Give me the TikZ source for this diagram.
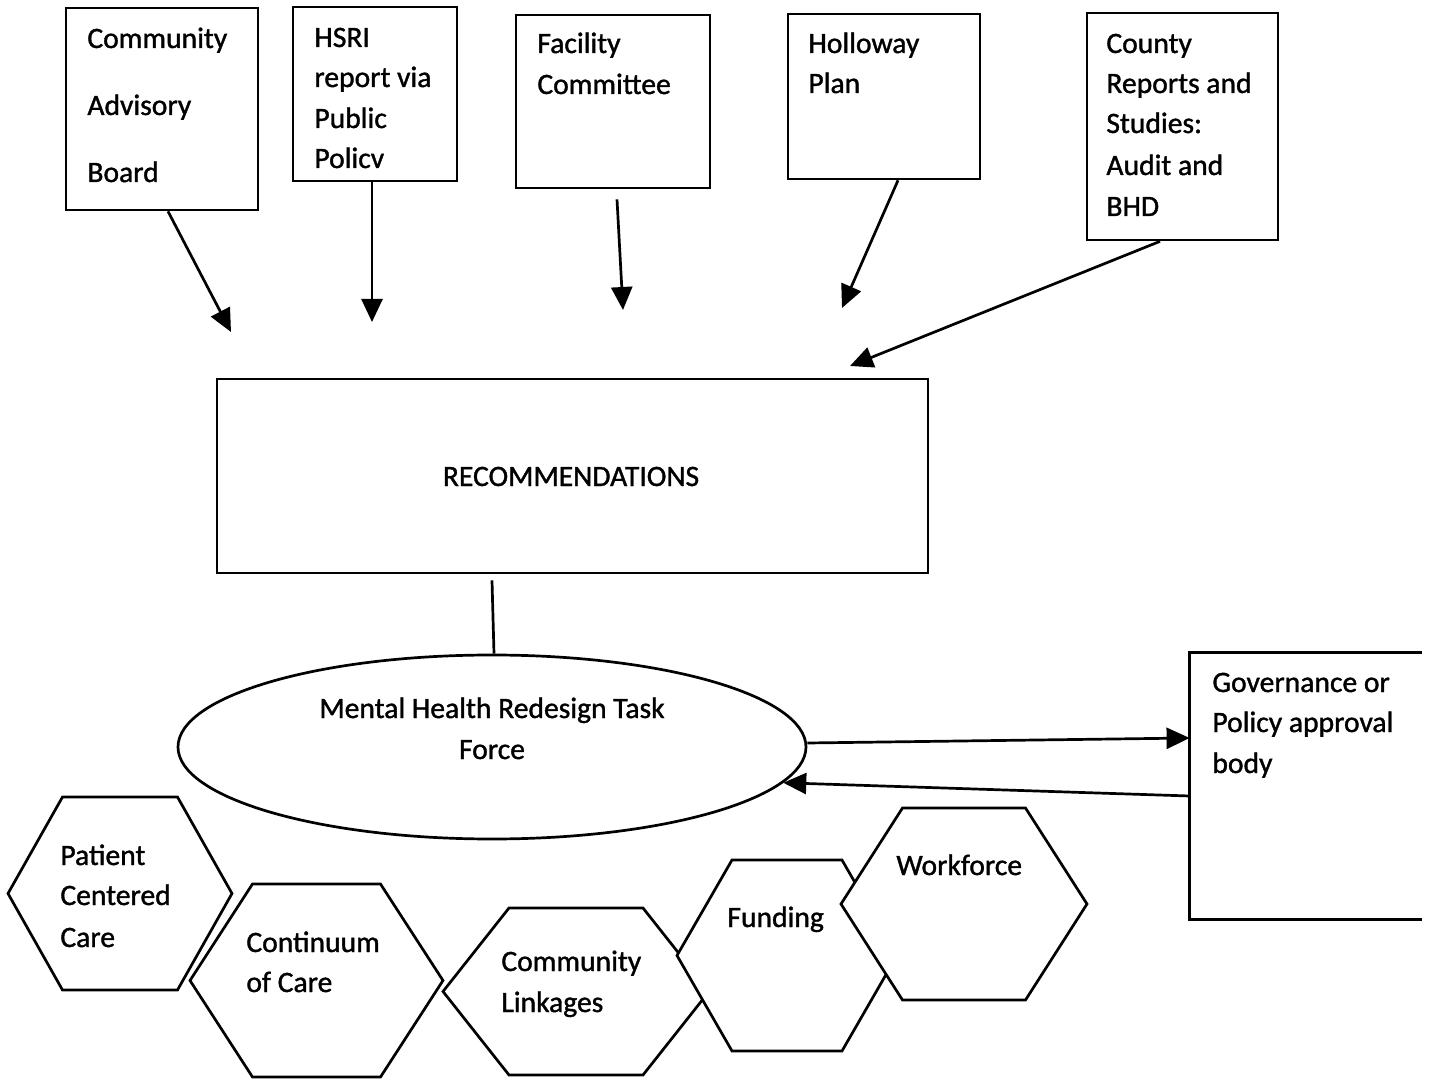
\documentclass[tikz,border=0pt]{standalone}
\usepackage{fontspec}
\setmainfont{Carlito}
\newfontfamily\diagfont{Carlito}[FakeBold=1.2]
\usetikzlibrary{arrows.meta,shapes.geometric}
\newcommand\drawhexa[5]{\path[hexa] (#1-#3,#2) -- (#1-#4,#2-#5) -- (#1+#4,#2-#5) -- (#1+#3,#2) -- (#1+#4,#2+#5) -- (#1-#4,#2+#5) -- cycle;}
\begin{document}
\begin{tikzpicture}[x=0.5pt,y=-0.5pt,
  bx/.style={draw,line width=1.35pt,rectangle,inner sep=0pt},
  txt/.style={inner sep=0pt,anchor=base west,font=\diagfont\fontsize{14.8}{17}\selectfont},
  ctxt/.style={inner sep=0pt,anchor=base,font=\diagfont\fontsize{14.8}{17}\selectfont},
  ln/.style={line width=1.35pt},
  arr/.style={line width=1.35pt,-{Triangle[length=11.5pt,width=10.5pt]}},
  hexa/.style={draw,fill=white,line width=1.35pt,line join=miter}]
\useasboundingbox[fill=white] (0,0) rectangle (1432,1081);

% top source boxes
\node[bx,minimum width=96pt,minimum height=101pt] (cab) at (162,109) {};
\node[bx,minimum width=82pt,minimum height=87pt] (hsri) at (375,94) {};
\node[bx,minimum width=97pt,minimum height=86.5pt] (fac) at (613,101.5) {};
\node[bx,minimum width=96pt,minimum height=82.5pt] (hol) at (884,96.5) {};
\node[bx,minimum width=95.5pt,minimum height=113.5pt] (cty) at (1182.5,126.5) {};

\node[txt] (cab1) at (87,48) {Community};
\node[txt] (cab2) at (87,115) {Advisory};
\node[txt] (cab3) at (87,182) {Board};

\node[txt] (hs1) at (314,47) {HSRI};
\node[txt] (hs2) at (314,87) {report via};
\node[txt] (hs3) at (314,128) {Public};
\node[txt] (hs4) at (314,168) {Policv};

\node[txt] (fa1) at (537,53) {Facility};
\node[txt] (fa2) at (537,94) {Committee};

\node[txt] (ho1) at (808,53) {Holloway};
\node[txt] (ho2) at (808,93) {Plan};

\node[txt] (ct1) at (1106,53) {County};
\node[txt] (ct2) at (1106,93) {Reports and};
\node[txt] (ct3) at (1106,133) {Studies:};
\node[txt] (ct4) at (1106,175) {Audit and};
\node[txt] (ct5) at (1106,216) {BHD};

% free arrow ends
\coordinate (e1) at (231,332);
\coordinate (e2) at (372,322);
\coordinate (e3) at (623,310);
\coordinate (e4) at (842,308);
\coordinate (e5) at (850,366);

\draw[arr] ([xshift=3pt]cab.south) -- (e1);
\draw[arr] ([xshift=-1.5pt]hsri.south) -- (e2);
\draw[arr] ([xshift=2pt,yshift=-5pt]fac.south) -- (e3);
\draw[arr] ([xshift=7pt]hol.south) -- (e4);
\draw[arr] ([xshift=-11.25pt]cty.south) -- (e5);

% recommendations
\node[bx,minimum width=355.5pt,minimum height=97pt] (rec) at (572.5,476) {};
\node[ctxt] (rect) at (571,486) {RECOMMENDATIONS};

% task force ellipse
\node[ellipse,draw,line width=1.35pt,minimum width=314pt,minimum height=92pt,inner sep=0pt] (tf) at (492,747) {};
\node[ctxt] (tf1) at (492,718) {Mental Health Redesign Task};
\node[ctxt] (tf2) at (492,759) {Force};

\draw[ln] ([xshift=-40.25pt,yshift=-3pt]rec.south) -- ([xshift=1pt]tf.north);

% governance box (open on the right)
\node[inner sep=0pt,minimum width=116pt,minimum height=133pt] (gov) at (1306,786) {};
\draw[ln] (gov.north east) -- (gov.north west) -- (gov.south west) -- (gov.south east);
\node[txt] (gv1) at (1212,692) {Governance or};
\node[txt] (gv2) at (1212,732) {Policy approval};
\node[txt] (gv3) at (1212,773) {body};

\draw[arr] ([yshift=2pt]tf.east) -- ([yshift=24pt]gov.west);
\draw[arr] ([yshift=-5pt]gov.west) -- (tf.-7);

% hexagons
\drawhexa{120}{893.5}{112}{57.5}{96.5}
\drawhexa{316.5}{980.5}{126.5}{64}{96.5}
\drawhexa{576}{991.5}{133}{67}{83.5}
\drawhexa{787}{955.5}{110}{55}{95.5}
\drawhexa{964}{904}{123}{61.5}{96}

\node[txt] (pc1) at (60,865) {Patient};
\node[txt] (pc2) at (60,905) {Centered};
\node[txt] (pc3) at (60,947) {Care};
\node[txt] (cc1) at (246,952) {Continuum};
\node[txt] (cc2) at (246,992) {of Care};
\node[txt] (cl1) at (501,971) {Community};
\node[txt] (cl2) at (501,1012) {Linkages};
\node[txt] (fu1) at (727,927) {Funding};
\node[txt] (wf1) at (896,875) {Workforce};
\end{tikzpicture}
\end{document}
